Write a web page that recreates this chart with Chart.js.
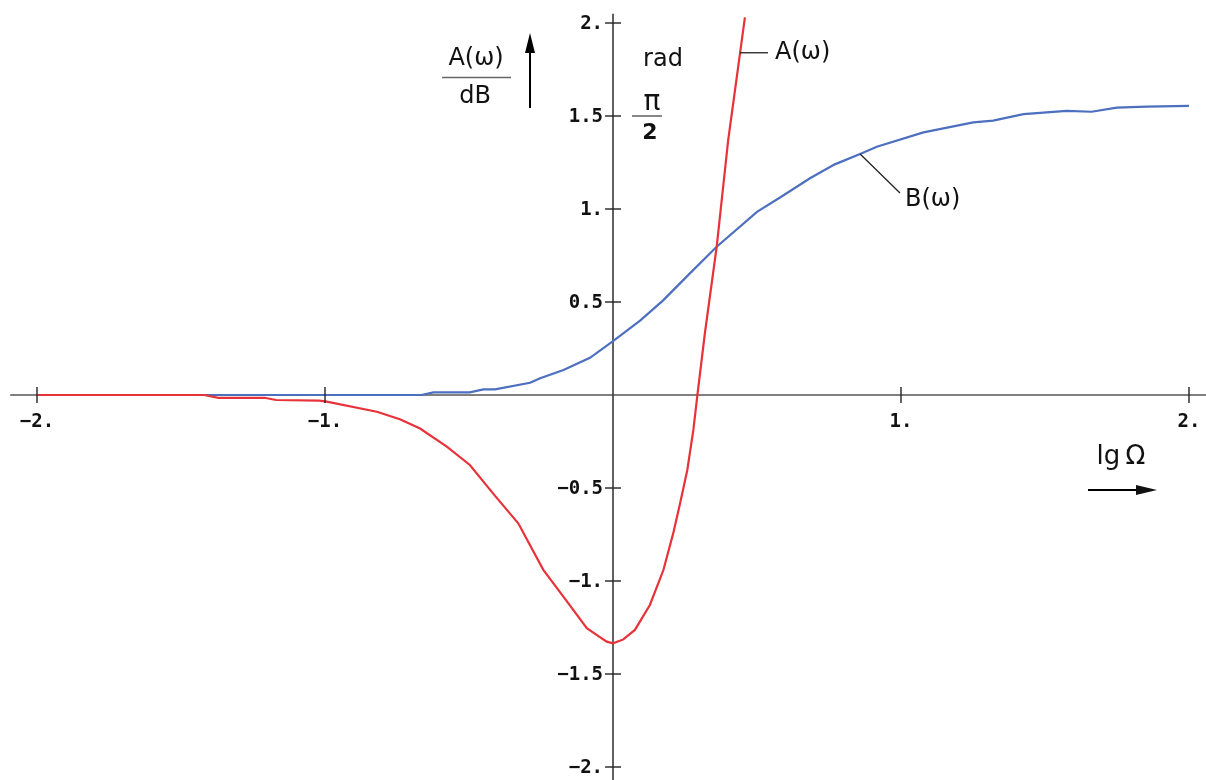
<!DOCTYPE html>
<html>
<head>
<meta charset="utf-8">
<script src="https://cdn.jsdelivr.net/npm/chart.js@4.4.1/dist/chart.umd.min.js"></script>
<style>
  html, body { margin: 0; padding: 0; background: #ffffff; }
  #wrap { width: 1206px; height: 780px; position: relative; }
</style>
</head>
<body>
<div id="wrap"><canvas id="c" width="1206" height="780"></canvas></div>
<script>
// ---- data ----
const redX = [-2, -1.42, -1.37, -1.21, -1.17, -1.02, -0.994, -0.82, -0.74, -0.67, -0.577, -0.497, -0.416, -0.329, -0.242, -0.16, -0.091, -0.057, -0.022, 0, 0.036, 0.076, 0.128, 0.175, 0.209, 0.233, 0.258, 0.279, 0.293, 0.319, 0.36, 0.40, 0.441, 0.458];
const redY = [0, 0, -0.015, -0.015, -0.027, -0.03, -0.036, -0.09, -0.13, -0.18, -0.278, -0.376, -0.53, -0.69, -0.94, -1.11, -1.254, -1.29, -1.326, -1.335, -1.314, -1.263, -1.129, -0.941, -0.744, -0.582, -0.403, -0.188, 0, 0.332, 0.797, 1.371, 1.837, 2.03];

const blueX = [-1.42, -0.665, -0.624, -0.497, -0.45, -0.41, -0.288, -0.253, -0.172, -0.08, 0, 0.094, 0.175, 0.267, 0.36, 0.5, 0.58, 0.684, 0.77, 0.858, 0.916, 1.078, 1.251, 1.32, 1.425, 1.575, 1.662, 1.749, 1.853, 2.0];
const blueY = [0, 0, 0.0145, 0.0145, 0.03, 0.03, 0.066, 0.09, 0.134, 0.2, 0.29, 0.40, 0.51, 0.654, 0.797, 0.985, 1.062, 1.165, 1.24, 1.296, 1.335, 1.412, 1.466, 1.475, 1.51, 1.528, 1.523, 1.545, 1.55, 1.555];

const seriesNames = ['A(\u03C9)', 'B(\u03C9)'];

const xTickValues = [-2, -1, 1, 2];
const xTickLabels = ['\u22122.', '\u22121.', '1.', '2.'];
const yTickValues = [2, 1.5, 1, 0.5, -0.5, -1, -1.5, -2];
const yTickLabels = ['2.', '1.5', '1.', '0.5', '\u22120.5', '\u22121.', '\u22121.5', '\u22122.'];

const xAxisTitle = 'lg\u2009\u03A9';
const yAxisTitleTop = 'A(\u03C9)';
const yAxisTitleBottom = 'dB';
const y2Unit = 'rad';
const piLabelTop = '\u03C0';
const piLabelBottom = '2';

// ---- helpers ----
function toPoints(xs, ys) { return xs.map((v, i) => ({ x: v, y: ys[i] })); }

const LABEL_FONT = '24px "DejaVu Sans", sans-serif';
const TICK_FONT = 'bold 19px "DejaVu Sans Mono", monospace';

const axesPlugin = {
  id: 'centerAxes',
  beforeDatasetsDraw(chart) {
    const { ctx } = chart;
    const sx = chart.scales.x, sy = chart.scales.y;
    const x0 = sx.getPixelForValue(0), y0 = sy.getPixelForValue(0);
    ctx.save();
    ctx.lineWidth = 1.8;
    ctx.strokeStyle = '#808080';
    ctx.beginPath();
    ctx.moveTo(sx.getPixelForValue(-2.093), y0);
    ctx.lineTo(chart.width, y0);
    ctx.stroke();
    ctx.strokeStyle = '#3a3a3a';
    ctx.lineWidth = 1.6;
    ctx.beginPath();
    ctx.moveTo(x0, sy.getPixelForValue(2.05));
    ctx.lineTo(x0, chart.height);
    ctx.stroke();
    ctx.restore();
  },
  afterDatasetsDraw(chart) {
    const { ctx } = chart;
    const sx = chart.scales.x, sy = chart.scales.y;
    const x0 = sx.getPixelForValue(0), y0 = sy.getPixelForValue(0);
    ctx.save();
    // tick marks
    ctx.strokeStyle = '#222';
    ctx.lineWidth = 1.4;
    xTickValues.forEach(v => {
      const px = sx.getPixelForValue(v);
      ctx.beginPath(); ctx.moveTo(px, y0 - 8); ctx.lineTo(px, y0 + 8); ctx.stroke();
    });
    yTickValues.forEach(v => {
      const py = sy.getPixelForValue(v);
      ctx.beginPath(); ctx.moveTo(x0 - 8, py); ctx.lineTo(x0 + 8, py); ctx.stroke();
    });
    // tick labels
    ctx.fillStyle = '#111';
    ctx.font = TICK_FONT;
    ctx.textAlign = 'center';
    ctx.textBaseline = 'middle';
    xTickValues.forEach((v, i) => {
      ctx.fillText(xTickLabels[i], sx.getPixelForValue(v), y0 + 27);
    });
    ctx.textAlign = 'right';
    yTickValues.forEach((v, i) => {
      ctx.fillText(yTickLabels[i], x0 - 10, sy.getPixelForValue(v) + 1);
    });

    // axis titles
    ctx.font = LABEL_FONT;
    ctx.textAlign = 'center';
    ctx.fillText(yAxisTitleTop, 476, 59);
    ctx.fillText(yAxisTitleBottom, 475, 97);
    ctx.strokeStyle = '#666';
    ctx.lineWidth = 1.5;
    ctx.beginPath(); ctx.moveTo(442, 77.5); ctx.lineTo(511, 77.5); ctx.stroke();
    // up arrow
    ctx.strokeStyle = '#000';
    ctx.lineWidth = 2;
    ctx.beginPath(); ctx.moveTo(530, 108); ctx.lineTo(530, 48); ctx.stroke();
    ctx.fillStyle = '#000';
    ctx.beginPath(); ctx.moveTo(530, 33); ctx.lineTo(525, 53); ctx.lineTo(535, 53); ctx.closePath(); ctx.fill();

    // rad and pi/2
    ctx.fillStyle = '#111';
    ctx.font = LABEL_FONT;
    ctx.fillText(y2Unit, 663, 60);
    ctx.font = '28px "DejaVu Sans", sans-serif';
    ctx.fillText(piLabelTop, 652, 103);
    ctx.font = 'bold 22px "DejaVu Sans", sans-serif';
    ctx.fillText(piLabelBottom, 650, 133);
    ctx.strokeStyle = '#555';
    ctx.lineWidth = 1.4;
    ctx.beginPath(); ctx.moveTo(632, 116); ctx.lineTo(662, 116); ctx.stroke();

    // series labels with leader lines
    ctx.strokeStyle = '#222';
    ctx.lineWidth = 1.3;
    const ax = sx.getPixelForValue(0.441), ay = sy.getPixelForValue(1.84);
    ctx.beginPath(); ctx.moveTo(ax, ay); ctx.lineTo(768, ay); ctx.stroke();
    const bx = sx.getPixelForValue(0.858), by = sy.getPixelForValue(1.296);
    ctx.beginPath(); ctx.moveTo(bx, by); ctx.lineTo(900, 193); ctx.stroke();
    ctx.font = LABEL_FONT;
    ctx.textAlign = 'left';
    ctx.fillText(seriesNames[0], 775, 53);
    ctx.fillText(seriesNames[1], 905, 200);

    // x axis title and arrow
    ctx.textAlign = 'center';
    ctx.font = '26px "DejaVu Sans", sans-serif';
    ctx.fillText(xAxisTitle, 1121, 457);
    ctx.strokeStyle = '#000';
    ctx.lineWidth = 2;
    ctx.beginPath(); ctx.moveTo(1088, 490); ctx.lineTo(1140, 490); ctx.stroke();
    ctx.beginPath(); ctx.moveTo(1157, 490); ctx.lineTo(1136, 485); ctx.lineTo(1136, 495); ctx.closePath(); ctx.fill();
    ctx.restore();
  }
};

new Chart(document.getElementById('c'), {
  type: 'scatter',
  data: {
    datasets: [
      {
        label: seriesNames[0],
        data: toPoints(redX, redY),
        showLine: true,
        borderColor: '#e8323a',
        borderWidth: 2.2,
        pointRadius: 0,
        tension: 0,
        fill: false
      },
      {
        label: seriesNames[1],
        data: toPoints(blueX, blueY),
        showLine: true,
        borderColor: '#4d6fbf',
        borderWidth: 2.2,
        pointRadius: 0,
        tension: 0,
        fill: false
      }
    ]
  },
  options: {
    responsive: false,
    animation: false,
    devicePixelRatio: 1,
    layout: { padding: 0 },
    plugins: { legend: { display: false }, tooltip: { enabled: false }, title: { display: false } },
    scales: {
      x: { type: 'linear', min: -2.1285, max: 2.059, display: false },
      y: { type: 'linear', min: -2.0699, max: 2.1237, display: false }
    }
  },
  plugins: [axesPlugin]
});
</script>
</body>
</html>
